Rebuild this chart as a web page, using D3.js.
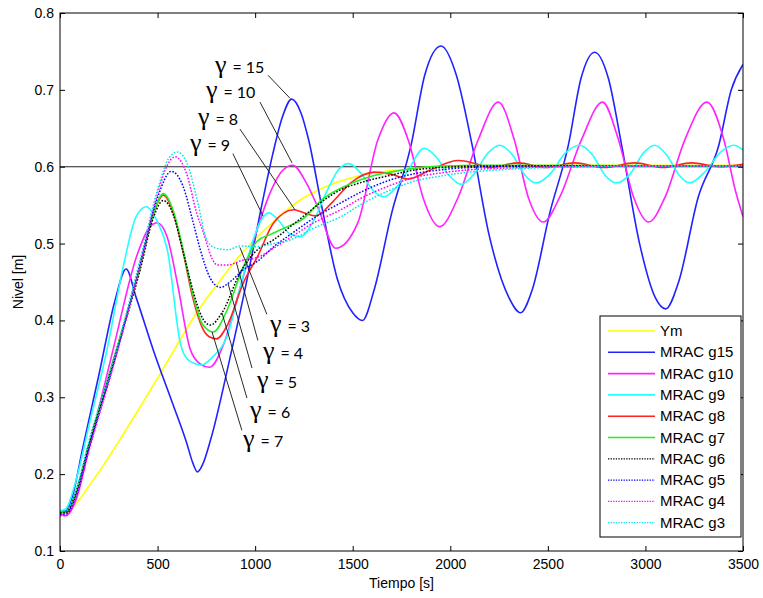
<!DOCTYPE html>
<html>
<head>
<meta charset="utf-8">
<script src="https://cdn.jsdelivr.net/npm/d3@7"></script>
<style>
  body { margin: 0; background: #fff; }
  .axis text { font-family: "Liberation Sans", Arial, sans-serif; font-size: 14px; fill: #000; }
  .axis line { stroke: #000; }
</style>
</head>
<body>
<div class="Canvas"></div>
<script>
// Time ticks and level ticks of the plot.
const xTicks = [0, 500, 1000, 1500, 2000, 2500, 3000, 3500];
const yTicks = [0.1, 0.2, 0.3, 0.4, 0.5, 0.6, 0.7, 0.8];
const refLevel = 0.6;

// Each series: [time (s), level (m)].
const ym = [[0,0.15],[50,0.154],[100,0.167],[144,0.183],[200,0.203],[300,0.242],[400,0.283],[500,0.325],[600,0.368],[700,0.41],[800,0.445],[900,0.478],[1000,0.506],[1100,0.53],[1233,0.557],[1370,0.575],[1500,0.586],[1609,0.592],[1750,0.596],[1866,0.599],[2100,0.601],[2600,0.602],[3500,0.602]];
const g15 = [[0,0.15],[25,0.151],[50,0.16],[120,0.238],[200,0.33],[283,0.427],[339,0.467],[390,0.43],[480,0.36],[580,0.29],[650,0.24],[680,0.215],[704,0.203],[730,0.212],[771,0.244],[870,0.35],[960,0.455],[1030,0.545],[1089,0.615],[1140,0.665],[1187,0.688],[1235,0.67],[1274,0.635],[1340,0.55],[1420,0.455],[1500,0.41],[1550,0.40],[1610,0.44],[1700,0.54],[1799,0.628],[1870,0.72],[1953,0.757],[2030,0.72],[2112,0.628],[2200,0.51],[2300,0.43],[2360,0.41],[2420,0.44],[2510,0.54],[2605,0.628],[2670,0.715],[2740,0.749],[2810,0.715],[2878,0.628],[2970,0.5],[3050,0.43],[3104,0.415],[3170,0.45],[3270,0.56],[3376,0.628],[3440,0.70],[3500,0.733]];
const g10 = [[0,0.148],[30,0.146],[80,0.165],[150,0.235],[272,0.362],[395,0.485],[450,0.518],[498,0.527],[550,0.508],[601,0.449],[668,0.362],[720,0.343],[766,0.339],[840,0.37],[920,0.44],[1000,0.51],[1080,0.568],[1140,0.595],[1192,0.602],[1260,0.58],[1320,0.548],[1413,0.494],[1526,0.527],[1629,0.635],[1711,0.670],[1788,0.632],[1860,0.56],[1945,0.522],[2040,0.56],[2143,0.635],[2246,0.684],[2328,0.635],[2400,0.56],[2477,0.528],[2560,0.56],[2672,0.635],[2780,0.684],[2862,0.635],[2940,0.56],[3016,0.528],[3100,0.56],[3202,0.635],[3315,0.684],[3402,0.635],[3460,0.57],[3500,0.535]];
const g9 = [[0,0.152],[30,0.155],[80,0.19],[150,0.265],[241,0.362],[324,0.47],[390,0.535],[442,0.548],[500,0.528],[550,0.492],[617,0.37],[660,0.348],[725,0.342],[780,0.352],[857,0.38],[925,0.445],[990,0.505],[1030,0.53],[1070,0.54],[1120,0.53],[1180,0.512],[1233,0.509],[1300,0.53],[1371,0.57],[1430,0.597],[1480,0.604],[1540,0.592],[1609,0.568],[1660,0.561],[1720,0.572],[1783,0.595],[1866,0.624],[1930,0.612],[1989,0.59],[2056,0.577],[2120,0.59],[2194,0.618],[2252,0.628],[2320,0.615],[2380,0.59],[2441,0.579],[2510,0.59],[2590,0.618],[2662,0.628],[2730,0.615],[2790,0.59],[2852,0.579],[2920,0.59],[2990,0.618],[3047,0.628],[3110,0.615],[3170,0.59],[3227,0.579],[3300,0.592],[3390,0.62],[3453,0.628],[3500,0.622]];
const g8 = [[0,0.15],[30,0.15],[80,0.175],[150,0.24],[293,0.365],[411,0.47],[480,0.54],[530,0.563],[580,0.54],[630,0.49],[680,0.43],[730,0.39],[770,0.378],[802,0.376],[860,0.395],[940,0.449],[1012,0.483],[1095,0.527],[1198,0.544],[1250,0.54],[1310,0.536],[1400,0.555],[1490,0.579],[1610,0.593],[1700,0.59],[1783,0.584],[1900,0.596],[2040,0.608],[2158,0.602],[2200,0.599],[2349,0.605],[2490,0.599],[2636,0.605],[2790,0.599],[2945,0.605],[3090,0.599],[3237,0.605],[3380,0.6],[3500,0.603]];
const g7 = [[0,0.15],[30,0.15],[80,0.175],[150,0.24],[293,0.365],[411,0.47],[480,0.54],[530,0.565],[580,0.543],[630,0.493],[680,0.435],[730,0.395],[786,0.385],[850,0.41],[940,0.47],[1010,0.503],[1079,0.512],[1182,0.524],[1233,0.53],[1352,0.559],[1490,0.578],[1600,0.588],[1696,0.593],[1850,0.599],[1953,0.601],[2200,0.602],[3500,0.601]];
const g6 = [[0,0.15],[30,0.15],[80,0.175],[150,0.24],[293,0.362],[411,0.466],[480,0.535],[530,0.556],[580,0.538],[630,0.49],[680,0.44],[730,0.403],[771,0.394],[830,0.41],[925,0.463],[1012,0.492],[1095,0.505],[1180,0.522],[1269,0.54],[1350,0.556],[1439,0.57],[1550,0.58],[1696,0.589],[1800,0.595],[1953,0.599],[2200,0.601],[3500,0.601]];
const g5 = [[0,0.148],[30,0.148],[80,0.17],[150,0.235],[293,0.36],[411,0.475],[500,0.56],[570,0.594],[630,0.575],[680,0.53],[719,0.492],[770,0.455],[822,0.443],[880,0.452],[940,0.466],[1012,0.477],[1100,0.497],[1182,0.512],[1300,0.533],[1439,0.553],[1550,0.568],[1696,0.583],[1800,0.59],[1953,0.596],[2200,0.6],[2500,0.601],[3500,0.601]];
const g4 = [[0,0.146],[30,0.146],[80,0.168],[150,0.232],[293,0.358],[411,0.472],[500,0.565],[550,0.602],[591,0.613],[650,0.59],[700,0.54],[735,0.514],[780,0.48],[807,0.472],[860,0.472],[930,0.478],[1012,0.482],[1100,0.495],[1182,0.508],[1300,0.527],[1439,0.544],[1550,0.56],[1696,0.576],[1800,0.585],[1953,0.592],[2100,0.596],[2261,0.598],[2600,0.6],[3500,0.601]];
const g3 = [[0,0.152],[30,0.153],[80,0.178],[150,0.245],[293,0.365],[411,0.48],[500,0.57],[555,0.61],[601,0.619],[650,0.605],[700,0.56],[755,0.503],[800,0.494],[860,0.492],[925,0.497],[1000,0.496],[1095,0.5],[1182,0.505],[1300,0.52],[1439,0.535],[1550,0.552],[1696,0.57],[1800,0.58],[1953,0.588],[2100,0.593],[2261,0.596],[2500,0.599],[3000,0.601],[3500,0.601]];

// Legend order = drawing order.
const seriesNames = ['Ym', 'MRAC g15', 'MRAC g10', 'MRAC g9', 'MRAC g8', 'MRAC g7', 'MRAC g6', 'MRAC g5', 'MRAC g4', 'MRAC g3'];
const seriesData = [ym, g15, g10, g9, g8, g7, g6, g5, g4, g3];
const seriesColors = ['#ffff00', '#2222ff', '#ff22ff', '#22ffff', '#ff2222', '#22ee22', '#000000', '#0000ff', '#ff00ff', '#00e5e5'];
const seriesDotted = [false, false, false, false, false, false, true, true, true, true];

// Gamma callouts: label, label anchor [t, level], leader start and end [t, level].
const gammaLabels = ['15', '10', '8', '9', '3', '4', '5', '6', '7'];
const gammaAnchors = [[794,0.722],[748,0.689],[707,0.654],[666,0.620],[1076,0.385],[1040,0.350],[1009,0.312],[974,0.273],[938,0.235]];
const gammaLeaderFrom = [[1066,0.719],[1025,0.684],[922,0.649],[886,0.617],[1060,0.408],[1014,0.374],[984,0.338],[958,0.299],[932,0.257]];
const gammaLeaderTo = [[1179,0.689],[1189,0.605],[1204,0.544],[1040,0.536],[922,0.495],[904,0.475],[861,0.448],[830,0.410],[779,0.385]];

const width = 763;
const height = 598;
const plotLeft = 60, plotRight = 743, plotTop = 13, plotBottom = 551;
const tickLen = 5;

const svg = d3.select('.Canvas').append('svg')
    .attr('width', width)
    .attr('height', height);

const x = d3.scaleLinear().domain([0, 3500]).range([plotLeft, plotRight]);
const y = d3.scaleLinear().domain([0.1, 0.8]).range([plotBottom, plotTop]);

// Clip curves to the axes box.
svg.append('clipPath').attr('id', 'plotClip')
    .append('rect')
    .attr('x', plotLeft).attr('y', plotTop)
    .attr('width', plotRight - plotLeft).attr('height', plotBottom - plotTop);

// Reference level.
svg.append('line')
    .attr('x1', x(0)).attr('x2', x(3500))
    .attr('y1', y(refLevel)).attr('y2', y(refLevel))
    .attr('stroke', '#222').attr('stroke-width', 1.1);

const line = d3.line()
    .x((d) => x(d[0]))
    .y((d) => y(d[1]))
    .curve(d3.curveMonotoneX);

const curves = svg.append('g').attr('clip-path', 'url(#plotClip)');
for (let i = 0; i < seriesData.length; i++) {
    curves.append('path')
        .datum(seriesData[i])
        .attr('d', line)
        .attr('fill', 'none')
        .attr('stroke', seriesColors[i])
        .attr('stroke-width', seriesDotted[i] ? 1.5 : 1.6)
        .attr('stroke-dasharray', seriesDotted[i] ? '1.6,1.6' : null);
}

// Axes box with inward ticks on all four sides (MATLAB style).
const yFmt = d3.format('.1f');
const xFmt = d3.format('d');
const bottomAxis = svg.append('g').attr('class', 'axis')
    .attr('transform', `translate(0,${plotBottom})`)
    .call(d3.axisBottom(x).tickValues(xTicks).tickSizeInner(-tickLen).tickSizeOuter(0).tickPadding(8).tickFormat(xFmt));
const topAxis = svg.append('g').attr('class', 'axis')
    .attr('transform', `translate(0,${plotTop})`)
    .call(d3.axisTop(x).tickValues(xTicks).tickSizeInner(-tickLen).tickSizeOuter(0).tickFormat(''));
const leftAxis = svg.append('g').attr('class', 'axis')
    .attr('transform', `translate(${plotLeft},0)`)
    .call(d3.axisLeft(y).tickValues(yTicks).tickSizeInner(-tickLen).tickSizeOuter(0).tickPadding(6).tickFormat(yFmt));
const rightAxis = svg.append('g').attr('class', 'axis')
    .attr('transform', `translate(${plotRight},0)`)
    .call(d3.axisRight(y).tickValues(yTicks).tickSizeInner(-tickLen).tickSizeOuter(0).tickFormat(''));
[bottomAxis, topAxis, leftAxis, rightAxis].forEach((a) => a.select('.domain').remove());

svg.append('rect')
    .attr('x', plotLeft).attr('y', plotTop)
    .attr('width', plotRight - plotLeft).attr('height', plotBottom - plotTop)
    .attr('fill', 'none').attr('stroke', '#000').attr('stroke-width', 1);

// Axis titles.
svg.append('text')
    .attr('x', (plotLeft + plotRight) / 2).attr('y', 588)
    .attr('text-anchor', 'middle')
    .attr('font-family', '"Liberation Sans", Arial, sans-serif').attr('font-size', '14px')
    .text('Tiempo [s]');
svg.append('text')
    .attr('transform', `translate(23,${(plotTop + plotBottom) / 2}) rotate(-90)`)
    .attr('text-anchor', 'middle')
    .attr('font-family', '"Liberation Sans", Arial, sans-serif').attr('font-size', '14px')
    .text('Nivel [m]');

// Gamma callouts with leader lines.
for (let i = 0; i < gammaLabels.length; i++) {
    svg.append('line')
        .attr('x1', x(gammaLeaderFrom[i][0])).attr('y1', y(gammaLeaderFrom[i][1]))
        .attr('x2', x(gammaLeaderTo[i][0])).attr('y2', y(gammaLeaderTo[i][1]))
        .attr('stroke', '#111').attr('stroke-width', 0.9);
    const t = svg.append('text')
        .attr('x', x(gammaAnchors[i][0])).attr('y', y(gammaAnchors[i][1]));
    t.append('tspan')
        .attr('font-family', '"Liberation Serif", "DejaVu Serif", serif')
        .attr('font-size', '26px')
        .text('γ');
    t.append('tspan')
        .attr('dx', 6)
        .attr('font-family', 'Lato, "Open Sans", sans-serif')
        .attr('font-size', '16px')
        .text(`= ${gammaLabels[i]}`);
}

// Legend box (south east).
const legendLeft = 600, legendTop = 316, legendRight = 741, legendBottom = 537;
const legendRow0 = 331, legendStep = 21.3;
const legend = svg.append('g');
legend.append('rect')
    .attr('x', legendLeft).attr('y', legendTop)
    .attr('width', legendRight - legendLeft).attr('height', legendBottom - legendTop)
    .attr('fill', '#fff').attr('stroke', '#000').attr('stroke-width', 1);
seriesNames.forEach((name, i) => {
    const ry = legendRow0 + i * legendStep;
    legend.append('line')
        .attr('x1', 608).attr('x2', 655)
        .attr('y1', ry).attr('y2', ry)
        .attr('stroke', seriesColors[i])
        .attr('stroke-width', seriesDotted[i] ? 1.3 : 1.6)
        .attr('stroke-dasharray', seriesDotted[i] ? '1.3,1.3' : null);
    legend.append('text')
        .attr('x', 660).attr('y', ry + 5)
        .attr('font-family', '"Liberation Sans", Arial, sans-serif')
        .attr('font-size', '15px')
        .text(name);
});
</script>
</body>
</html>
